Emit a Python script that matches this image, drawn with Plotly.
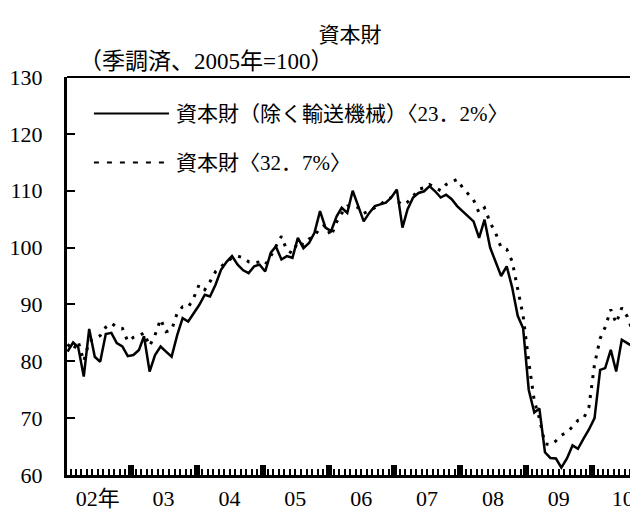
import plotly.graph_objects as go
import pandas as pd

# monthly, Jan 2002 - Sep 2010
months = pd.date_range("2002-01-01", periods=105, freq="MS") + pd.Timedelta(days=14)

# 資本財（除く輸送機械）
ex_transport = [
    81.7, 83.3, 82.5, 77.3, 85.7, 80.8, 79.9, 84.8, 85.0, 83.2, 82.6, 80.9,
    81.1, 82.0, 84.4, 78.2, 81.1, 82.6, 81.7, 80.8, 84.6, 87.6, 87.0, 88.5,
    89.9, 91.7, 91.4, 93.5, 96.1, 97.5, 98.5, 97.0, 96.0, 95.5, 96.7, 97.0,
    95.8, 99.1, 100.2, 97.9, 98.5, 98.2, 101.7, 99.9, 100.8, 102.6, 106.4, 103.5,
    102.9, 105.5, 107.0, 106.1, 110.0, 107.3, 104.6, 106.1, 107.3, 107.6, 107.9, 108.8,
    110.2, 103.5, 106.7, 108.8, 109.6, 109.9, 110.8, 109.9, 108.8, 109.3, 108.5, 107.3,
    106.4, 105.5, 104.6, 101.7, 104.9, 100.0, 97.5, 95.0, 96.7, 93.0, 88.0, 85.8,
    75.0, 71.0, 71.7, 64.0, 63.0, 62.9, 61.3, 62.9, 65.2, 64.6, 66.4, 68.0,
    70.0, 78.5, 78.8, 82.0, 78.2, 83.8, 83.2, 82.6, 82.5,
]

# 資本財
capital = [
    83.0, 82.0, 83.5, 80.0, 83.5, 84.0, 84.5, 86.0, 86.7, 86.0, 85.8, 83.5,
    84.2, 84.5, 85.0, 82.7, 84.6, 87.4, 85.2, 85.5, 88.5, 89.6, 89.5, 91.1,
    93.5, 92.6, 94.0, 95.8, 96.7, 97.5, 98.2, 98.5, 98.2, 97.5, 97.3, 97.5,
    97.0, 98.5, 100.2, 102.0, 99.5, 99.0, 101.0, 100.5, 101.5, 102.0, 103.5, 104.0,
    102.0, 104.5, 106.0, 107.3, 107.5, 107.0, 106.0, 106.5, 107.0, 107.5, 108.4, 108.8,
    108.2, 107.5, 108.0, 109.0, 110.3, 110.5, 111.1, 110.5, 110.0, 111.1, 111.5, 112.0,
    110.5, 109.5, 108.4, 106.1, 107.0, 104.4, 102.6, 100.0, 99.7, 97.6, 92.5, 88.0,
    80.0, 73.0, 70.0, 65.5, 65.3, 66.0, 67.0, 67.5, 68.5, 69.6, 69.9, 72.0,
    79.5, 84.0, 86.0, 89.1, 86.7, 89.4, 87.9, 85.2, 84.9,
]

year_ticks = ["2003-01-01", "2004-01-01", "2005-01-01", "2006-01-01",
              "2007-01-01", "2008-01-01", "2009-01-01", "2010-01-01"]
label_pos = ["2002-07-01", "2003-07-01", "2004-07-01", "2005-07-01", "2006-07-01",
             "2007-07-01", "2008-07-01", "2009-07-01", "2010-06-20"]
label_text = ["02年", "03", "04", "05", "06", "07", "08", "09", "10"]
y_ticks = [60, 70, 80, 90, 100, 110, 120, 130]

FONT = "Liberation Serif, Noto Sans CJK JP, serif"
JP = "Noto Sans CJK JP, sans-serif"

traces = [
    go.Scatter(x=months, y=ex_transport, mode="lines", xaxis="x", yaxis="y",
               line=dict(color="black", width=2.5), showlegend=False),
    go.Scatter(x=months, y=capital, mode="lines", xaxis="x2", yaxis="y",
               line=dict(color="black", width=3, dash="3px,7px"), showlegend=False),
]

layout = go.Layout(
    width=638, height=522,
    margin=dict(l=59, r=6, t=69, b=55),
    paper_bgcolor="white", plot_bgcolor="white",
    font=dict(family=FONT, color="black"),
    title=dict(text="資本財", x=0.536, xanchor="center", y=0.949, yanchor="middle",
               automargin=False, font=dict(family=JP, size=21, color="black")),
    xaxis=dict(type="date", range=["2002-01-12", "2010-09-24"], automargin=False,
               showline=True, linewidth=3, linecolor="black",
               tickmode="array", tickvals=year_ticks, showticklabels=False,
               ticks="inside", ticklen=10, tickwidth=6, tickcolor="black",
               minor=dict(ticks="inside", ticklen=6, tickwidth=1.5, tickcolor="black",
                          dtick="M1", tick0="2002-01-01"),
               showgrid=False, zeroline=False),
    xaxis2=dict(type="date", overlaying="x", matches="x", anchor="y", side="bottom",
                automargin=False, showline=False,
                tickmode="array", tickvals=label_pos, ticktext=label_text,
                ticks="", ticklabelstandoff=8, tickfont=dict(size=22),
                showgrid=False, zeroline=False),
    yaxis=dict(range=[60, 130], tickmode="array", tickvals=y_ticks, automargin=False,
               showline=True, linewidth=3, linecolor="black",
               ticks="inside", ticklen=8, tickwidth=2, tickcolor="black",
               ticklabelstandoff=17, tickfont=dict(size=22),
               showgrid=False, zeroline=False),
    shapes=[
        dict(type="line", xref="paper", yref="paper", x0=0, x1=1, y0=1, y1=1,
             line=dict(color="black", width=2)),
        dict(type="line", xref="paper", yref="paper", x0=0.047, x1=0.178, y0=0.908, y1=0.908,
             line=dict(color="black", width=2)),
        dict(type="line", xref="paper", yref="paper", x0=0.047, x1=0.178, y0=0.785, y1=0.785,
             line=dict(color="black", width=2, dash="5px,8px")),
    ],
    annotations=[
        dict(text="（季調済、2005年=100）", xref="paper", yref="paper", x=0.018, y=1.038,
             xanchor="left", yanchor="middle", showarrow=False,
             font=dict(family=FONT, size=23)),
        dict(text="資本財（除く輸送機械）〈23．2%〉", xref="paper", yref="paper", x=0.186, y=0.908,
             xanchor="left", yanchor="middle", showarrow=False,
             font=dict(family=FONT, size=21)),
        dict(text="資本財〈32．7%〉", xref="paper", yref="paper", x=0.186, y=0.785,
             xanchor="left", yanchor="middle", showarrow=False,
             font=dict(family=FONT, size=21)),
    ],
)

fig = go.Figure(data=traces, layout=layout)
fig.write_html("out.html")
